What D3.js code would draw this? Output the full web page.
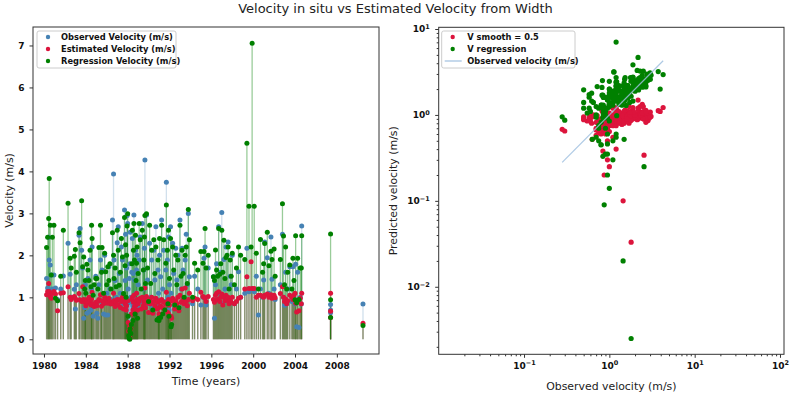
<!DOCTYPE html>
<html>
<head>
<meta charset="utf-8">
<script src="https://cdn.jsdelivr.net/npm/d3@7"></script>
<style>
  body { margin: 0; background: #fff; }
</style>
</head>
<body>
<div id="chart"></div>
<script>
// measurement dates (decimal years)
const dates = [
  1980.25, 1980.35, 1980.45, 1980.5, 1980.6, 1980.7, 1980.8, 1980.95, 1981.1, 1981.3,
  1981.6, 1981.85, 1982.3, 1982.5, 1982.6, 1982.9, 1983.0, 1983.1,
  1983.35, 1983.45, 1983.6, 1983.7, 1983.8, 1983.9, 1983.95, 1984.0,
  1984.1, 1984.2, 1984.3, 1984.4, 1984.5, 1984.55, 1984.6, 1984.7, 1984.8, 1984.95,
  1985.05, 1985.15, 1985.25, 1985.4, 1985.5, 1985.55, 1985.7, 1985.8, 1985.9, 1986.0,
  1986.1, 1986.2, 1986.3, 1986.4, 1986.55, 1986.65, 1986.7, 1986.8, 1986.9, 1987.0,
  1987.1, 1987.2, 1987.3, 1987.4, 1987.5, 1987.6, 1987.7, 1987.75, 1987.8, 1987.85, 1987.9, 1987.95,
  1988.0, 1988.05, 1988.1, 1988.15, 1988.2, 1988.2, 1988.25, 1988.3, 1988.35, 1988.4, 1988.45, 1988.5,
  1988.55, 1988.6, 1988.65, 1988.7, 1988.75, 1988.8, 1988.85, 1988.9, 1988.95, 1989.0,
  1989.1, 1989.2, 1989.3, 1989.4, 1989.5, 1989.55, 1989.6, 1989.65, 1989.7, 1989.8, 1989.9, 1990.0,
  1990.1, 1990.2, 1990.3, 1990.4, 1990.5, 1990.6, 1990.7, 1990.8, 1990.9, 1990.95, 1991.0, 1991.05,
  1991.15, 1991.25, 1991.35, 1991.45, 1991.55, 1991.65, 1991.7, 1991.8, 1991.85, 1991.9, 1991.95, 1992.0,
  1992.1, 1992.15, 1992.2, 1992.3, 1992.4, 1992.5, 1992.6, 1992.7, 1992.8, 1992.9,
  1993.0, 1993.1, 1993.2, 1993.3, 1993.4, 1993.5, 1993.6, 1993.7, 1993.8, 1993.9,
  1994.2, 1994.4, 1994.7, 1995.0, 1995.2, 1995.3, 1995.4, 1995.5, 1995.7, 1996.2,
  1996.3, 1996.4, 1996.5, 1996.6, 1996.7, 1996.8, 1996.9, 1997.0, 1997.1, 1997.2, 1997.3, 1997.4,
  1997.5, 1997.6, 1997.7, 1997.8, 1997.9, 1998.0, 1998.2, 1998.4, 1998.6, 1998.8,
  1999.2, 1999.4, 1999.6, 1999.8, 1999.9, 2000.1, 2000.3, 2000.5,
  2000.7, 2000.9, 2001.0, 2001.1, 2001.35, 2001.5, 2001.7, 2001.8, 2002.0, 2002.1,
  2002.6, 2002.8, 2002.9, 2003.0, 2003.1, 2003.2, 2003.3, 2003.5,
  2003.7, 2003.8, 2003.9, 2004.0, 2004.06, 2004.16, 2004.25, 2004.38, 2004.5, 2004.6, 2004.64,
  2007.4, 2007.4, 2007.4, 2010.5
]

// observed velocity in situ (m/s)
const observed = [
  1.45, 1.22, 2.43, 1.89, 1.77, 1.53, 1.20, 1.53, 1.22, 0.95,
  1.20, 1.51, 2.29, 1.55, 1.00, 1.19, 0.72, 1.30,
  2.48, 2.64, 2.12, 1.70, 0.50, 0.75, 1.30, 0.90,
  0.62, 1.45, 0.65, 1.89, 0.70, 1.20, 2.20, 0.55, 0.80, 1.50,
  0.62, 0.50, 1.30, 1.89, 0.90, 1.65, 0.60, 2.00, 0.58, 1.10,
  0.58, 1.73, 1.20, 0.95, 2.84, 3.94, 1.89, 1.40, 1.00, 2.30,
  2.68, 1.57, 1.10, 2.20, 1.89, 0.85, 3.08, 1.40, 2.50, 0.70, 1.70, 2.95,
  2.76, 1.20, 0.87, 1.45, 1.80, 0.95, 2.55, 1.00, 0.90, 1.60, 2.40, 0.80,
  1.57, 2.96, 1.41, 0.95, 2.12, 1.10, 1.65, 2.00, 0.75, 1.30,
  1.89, 2.44, 0.90, 2.76, 1.20, 1.65, 2.17, 4.27, 1.00, 2.96, 1.41, 0.85,
  2.29, 1.00, 1.89, 0.75, 2.12, 1.41, 2.68, 0.95, 1.65, 1.10, 0.80, 2.00,
  1.49, 2.84, 1.20, 2.12, 0.90, 1.65, 3.74, 1.89, 1.00, 2.44, 0.70, 1.30,
  2.68, 1.10, 0.95, 2.29, 1.57, 0.80, 2.17, 1.41, 2.00, 0.75,
  2.84, 1.20, 2.17, 1.65, 0.90, 1.89, 2.50, 1.30, 3.00, 1.49,
  0.85, 1.50, 1.20, 0.82, 1.00, 1.93, 2.20, 0.82, 1.70, 1.49,
  0.50, 1.30, 1.80, 0.95, 2.68, 1.10, 1.60, 3.02, 0.85, 1.90, 1.20, 2.20,
  1.00, 2.32, 0.90, 1.50, 1.30, 2.00, 0.85, 1.20, 1.61, 1.00,
  1.10, 2.17, 1.13, 1.20, 1.20, 1.13, 1.50, 0.58,
  1.20, 1.00, 1.41, 2.32, 1.94, 1.10, 2.44, 1.43, 1.20, 0.95,
  1.30, 2.50, 1.00, 0.81, 1.60, 0.85, 1.20, 1.73,
  0.90, 1.73, 1.00, 0.84, 1.79, 0.30, 1.60, 0.28, 1.00, 0.84, 2.70,
  0.83, 0.70, 0.63, 0.84
]

// estimated velocity from width, smooth = 0.5 (m/s)
const estimated = [
  1.06, 1.14, 1.33, 1.14, 1.02, 0.98, 1.10, 1.14, 1.08, 0.68,
  1.10, 1.11, 1.25, 1.00, 0.95, 1.02, 0.98, 0.93,
  1.09, 0.94, 0.90, 1.25, 0.95, 0.88, 0.92, 0.80,
  0.94, 0.86, 1.00, 0.90, 0.82, 0.96, 1.12, 0.85, 0.78, 0.88,
  0.80, 0.90, 0.95, 1.06, 0.79, 0.92, 0.85, 1.00, 0.94, 0.88,
  0.86, 0.98, 0.90, 0.84, 0.86, 1.10, 0.92, 0.78, 0.88, 0.95,
  0.82, 0.94, 0.76, 0.90, 1.00, 0.72, 0.96, 0.85, 0.90, 0.70, 0.80, 0.92,
  0.92, 0.40, 0.20, 0.10, 0.033, 0.30, 0.34, 0.25, 0.60, 0.95, 1.00, 0.70,
  0.88, 1.05, 0.78, 0.66, 0.90, 0.82, 1.10, 0.95, 0.70, 0.85,
  0.92, 0.98, 0.72, 1.00, 0.80, 0.88, 0.94, 1.22, 0.75, 1.02, 0.86, 0.64,
  0.95, 0.85, 1.00, 0.62, 0.90, 0.80, 0.98, 0.72, 0.88, 0.75, 0.60, 0.92,
  0.80, 0.95, 0.75, 0.88, 0.70, 0.84, 1.12, 0.90, 0.64, 0.95, 0.58, 0.82,
  0.92, 0.55, 0.50, 0.98, 0.90, 0.72, 0.92, 0.85, 1.00, 0.68,
  1.05, 0.88, 1.20, 0.95, 0.85, 1.22, 0.90, 0.80, 0.95, 1.10,
  0.92, 0.98, 0.95, 1.12, 1.02, 1.00, 0.98, 0.90, 1.02, 0.95,
  0.88, 1.05, 1.10, 0.95, 1.13, 0.90, 1.00, 1.08, 0.82, 1.00, 0.92, 1.05,
  0.95, 1.00, 0.85, 0.92, 0.88, 1.00, 0.85, 0.90, 0.98, 1.00,
  1.20, 1.49, 1.21, 1.85, 1.21, 1.21, 1.00, 1.05,
  1.05, 1.02, 1.00, 1.05, 1.08, 1.00, 1.06, 0.98, 1.05, 0.99,
  1.09, 1.25, 1.00, 0.90, 0.96, 0.85, 0.92, 1.05,
  1.00, 0.95, 1.05, 1.10, 0.86, 0.65, 0.90, 0.68, 0.98, 0.85, 1.10,
  1.10, 0.67, 0.52, 0.38
]

// regression velocity (m/s)
const regression = [
  2.19, 2.43, 2.88, 3.83, 2.72, 1.53, 2.43, 2.72, 0.98, 0.92,
  1.50, 2.60, 3.24, 1.93, 1.70, 1.98, 2.14, 1.60,
  2.54, 2.30, 3.30, 1.73, 1.96, 1.20, 1.40, 1.10,
  1.79, 1.65, 1.40, 2.12, 1.25, 2.72, 2.40, 1.05, 1.30, 1.45,
  1.45, 1.20, 2.19, 2.72, 1.60, 2.19, 1.10, 2.05, 1.61, 1.30,
  1.73, 1.40, 1.80, 1.20, 2.54, 2.00, 1.45, 1.70, 1.25, 2.60,
  2.12, 1.29, 1.60, 2.40, 1.96, 1.09, 2.90, 1.75, 2.25, 1.00, 2.00, 2.70,
  2.99, 0.55, 0.09, 0.02, 0.0025, 0.20, 0.25, 0.14, 0.35, 1.80, 2.60, 0.45,
  2.12, 2.76, 1.89, 0.60, 2.48, 1.40, 1.81, 2.20, 0.50, 1.57,
  2.76, 2.37, 1.20, 2.60, 1.65, 1.89, 2.44, 2.95, 1.33, 2.99, 1.70, 0.90,
  2.72, 1.33, 2.12, 0.70, 2.37, 1.57, 2.20, 0.46, 1.89, 0.50, 0.45, 2.40,
  0.52, 2.72, 0.60, 2.37, 0.70, 1.81, 3.20, 2.12, 0.85, 2.60, 0.55, 1.45,
  2.40, 0.30, 0.35, 2.20, 1.65, 0.82, 2.00, 1.30, 1.89, 0.75,
  2.72, 1.50, 2.12, 1.57, 1.00, 2.00, 2.20, 1.33, 3.09, 2.37,
  1.00, 1.81, 1.65, 2.09, 1.81, 2.09, 2.64, 1.70, 2.00, 1.49,
  1.40, 2.13, 1.65, 1.50, 2.64, 1.55, 1.80, 2.60, 1.60, 2.36, 1.45, 1.95,
  2.00, 2.20, 1.20, 1.89, 1.50, 2.05, 1.30, 1.70, 2.20, 2.00,
  1.90, 4.67, 3.17, 2.20, 7.05, 3.17, 2.05, 1.20,
  2.38, 1.60, 1.80, 2.28, 2.55, 1.75, 2.10, 1.90, 2.15, 1.50,
  1.90, 3.23, 2.46, 1.30, 2.20, 1.20, 1.60, 1.77,
  1.20, 1.93, 1.40, 0.94, 2.47, 0.87, 1.93, 0.95, 1.70, 1.70, 2.47,
  2.51, 0.94, 0.52, 0.33
]

const yearTicks = [1980, 1984, 1988, 1992, 1996, 2000, 2004, 2008]
const velocityTicks = [0, 1, 2, 3, 4, 5, 6, 7]
const logTicksX = [0.1, 1, 10, 100]
const logTicksY = [0.01, 0.1, 1, 10]

const leftLegend = ['Observed Velocity (m/s)', 'Estimated Velocity (m/s)', 'Regression Velocity (m/s)']
const rightLegend = ['V smooth = 0.5', 'V regression', 'Observed velocity (m/s)']

const colors = { observed: '#4682b4', estimated: '#dc143c', regression: '#008000', line: '#9fbfdf' }
const font = '"DejaVu Sans", sans-serif'
const tickSize = 9

const width = 791, height = 394

const svg = d3.select('#chart')
  .append('svg')
  .attr('width', width)
  .attr('height', height)
  .attr('font-family', font)

svg.append('text')
  .attr('x', 395.5).attr('y', 13)
  .attr('text-anchor', 'middle')
  .attr('font-size', 13)
  .attr('fill', '#222')
  .text('Velocity in situ vs Estimated Velocity from Width')

function styleAxis(g) {
  g.attr('font-family', font).attr('font-size', tickSize)
  g.select('.domain').remove()
  g.selectAll('.tick line').attr('stroke', '#333')
  g.selectAll('.tick text').attr('font-weight', 'bold').attr('fill', '#111')
}

function powerLabels(g) {
  g.selectAll('.tick text').each(function(d) {
    const e = Math.round(Math.log10(d))
    const t = d3.select(this).text('')
    t.append('tspan').text('10')
    t.append('tspan').attr('dy', '-0.5em').attr('font-size', '0.72em')
      .text(e < 0 ? '\u2212' + (-e) : String(e))
  })
}

function minorTicks(lo, hi) {
  const out = []
  for (let e = Math.floor(Math.log10(lo)); e <= Math.ceil(Math.log10(hi)); e++) {
    for (let m = 2; m <= 9; m++) {
      const v = m * Math.pow(10, e)
      if (v >= lo && v <= hi) out.push(v)
    }
  }
  return out
}

// ---------- left: stem plot over time ----------
const L = { x0: 33, x1: 379, y0: 27, y1: 354 }
const x = d3.scaleLinear().domain([1978.95, 2012.03]).range([L.x0, L.x1])
const y = d3.scaleLinear().domain([-0.35, 7.44]).range([L.y1, L.y0])

const series = [
  { values: observed, color: colors.observed, stemOpacity: 0.25 },
  { values: estimated, color: colors.estimated, stemOpacity: 0.35 },
  { values: regression, color: colors.regression, stemOpacity: 0.4 }
]

// all stems go underneath, markers on top
const stems = svg.append('g')
const markers = svg.append('g')
series.forEach(s => {
  stems.append('g').selectAll('line')
    .data(s.values)
    .join('line')
    .attr('x1', (d, i) => x(dates[i]))
    .attr('x2', (d, i) => x(dates[i]))
    .attr('y1', y(0))
    .attr('y2', d => y(d))
    .attr('stroke', s.color)
    .attr('stroke-opacity', s.stemOpacity)
    .attr('stroke-width', 1.3)
  markers.append('g').selectAll('circle')
    .data(s.values)
    .join('circle')
    .attr('cx', (d, i) => x(dates[i]))
    .attr('cy', d => y(d))
    .attr('r', 2.5)
    .attr('fill', s.color)
})

svg.append('g')
  .attr('transform', `translate(0,${L.y1})`)
  .call(d3.axisBottom(x).tickValues(yearTicks).tickFormat(d3.format('d')).tickSize(3.5).tickPadding(5))
  .call(styleAxis)

svg.append('g')
  .attr('transform', `translate(${L.x0},0)`)
  .call(d3.axisLeft(y).tickValues(velocityTicks).tickSize(3.5).tickPadding(5))
  .call(styleAxis)

svg.append('rect')
  .attr('x', L.x0).attr('y', L.y0)
  .attr('width', L.x1 - L.x0).attr('height', L.y1 - L.y0)
  .attr('fill', 'none').attr('stroke', '#333').attr('stroke-width', 1)

svg.append('text')
  .attr('x', (L.x0 + L.x1) / 2).attr('y', 384.5)
  .attr('text-anchor', 'middle').attr('font-size', 10.9).attr('fill', '#222')
  .text('Time (years)')

svg.append('text')
  .attr('transform', `translate(13,${(L.y0 + L.y1) / 2}) rotate(-90)`)
  .attr('text-anchor', 'middle').attr('font-size', 10.9).attr('fill', '#222')
  .text('Velocity (m/s)')

const legL = svg.append('g').attr('transform', 'translate(37,31)')
legL.append('rect')
  .attr('width', 139).attr('height', 37).attr('rx', 2)
  .attr('fill', '#fff').attr('fill-opacity', 0.8).attr('stroke', '#ccc')
leftLegend.forEach((name, i) => {
  legL.append('circle').attr('cx', 11).attr('cy', 6 + i * 12).attr('r', 2.2).attr('fill', series[i].color)
  legL.append('text').attr('x', 24).attr('y', 6 + i * 12).attr('dy', '0.35em')
    .attr('font-size', 8.3).attr('font-weight', 'bold').attr('fill', '#111').text(name)
})

// ---------- right: log-log scatter ----------
const R = { x0: 438.7, x1: 784, y0: 27.3, y1: 354.3 }
const xl = d3.scaleLog().domain([0.01, 111.4]).range([R.x0, R.x1])
const yl = d3.scaleLog().domain([0.001637, 10.47]).range([R.y1, R.y0])

const right = svg.append('g')
right.append('g').selectAll('circle')
  .data(estimated)
  .join('circle')
  .attr('cx', (d, i) => xl(observed[i]))
  .attr('cy', d => yl(d))
  .attr('r', 2.6)
  .attr('fill', colors.estimated)

right.append('g').selectAll('circle')
  .data(regression)
  .join('circle')
  .attr('cx', (d, i) => xl(observed[i]))
  .attr('cy', d => yl(d))
  .attr('r', 2.6)
  .attr('fill', colors.regression)

const obsExtent = d3.extent(observed)
right.append('line')
  .attr('x1', xl(obsExtent[0])).attr('y1', yl(obsExtent[0]))
  .attr('x2', xl(obsExtent[1])).attr('y2', yl(obsExtent[1]))
  .attr('stroke', colors.line).attr('stroke-width', 1.2).attr('stroke-opacity', 0.85)

svg.append('g')
  .attr('transform', `translate(0,${R.y1})`)
  .call(d3.axisBottom(xl).tickValues(minorTicks(0.01, 111.4)).tickSize(2).tickFormat(''))
  .call(styleAxis)

svg.append('g')
  .attr('transform', `translate(0,${R.y1})`)
  .call(d3.axisBottom(xl).tickValues(logTicksX).tickSize(3.5).tickPadding(4.5))
  .call(styleAxis)
  .call(powerLabels)

svg.append('g')
  .attr('transform', `translate(${R.x0},0)`)
  .call(d3.axisLeft(yl).tickValues(minorTicks(0.001637, 10.47)).tickSize(2).tickFormat(''))
  .call(styleAxis)

svg.append('g')
  .attr('transform', `translate(${R.x0},0)`)
  .call(d3.axisLeft(yl).tickValues(logTicksY).tickSize(3.5).tickPadding(5.5))
  .call(styleAxis)
  .call(powerLabels)

svg.append('rect')
  .attr('x', R.x0).attr('y', R.y0)
  .attr('width', R.x1 - R.x0).attr('height', R.y1 - R.y0)
  .attr('fill', 'none').attr('stroke', '#333').attr('stroke-width', 1)

svg.append('text')
  .attr('x', (R.x0 + R.x1) / 2).attr('y', 390)
  .attr('text-anchor', 'middle').attr('font-size', 10.9).attr('fill', '#222')
  .text('Observed velocity (m/s)')

svg.append('text')
  .attr('transform', `translate(397,${(R.y0 + R.y1) / 2}) rotate(-90)`)
  .attr('text-anchor', 'middle').attr('font-size', 10.9).attr('fill', '#222')
  .text('Predicted velocity (m/s)')

const legR = svg.append('g').attr('transform', 'translate(441.7,31)')
legR.append('rect')
  .attr('width', 133.3).attr('height', 37).attr('rx', 2)
  .attr('fill', '#fff').attr('fill-opacity', 0.8).attr('stroke', '#ccc')
legR.append('circle').attr('cx', 11).attr('cy', 6).attr('r', 2.2).attr('fill', colors.estimated)
legR.append('circle').attr('cx', 11).attr('cy', 18).attr('r', 2.2).attr('fill', colors.regression)
legR.append('line').attr('x1', 3).attr('x2', 20).attr('y1', 30).attr('y2', 30)
  .attr('stroke', colors.line).attr('stroke-width', 1.2)
rightLegend.forEach((name, i) => {
  legR.append('text').attr('x', 25.6).attr('y', 6 + i * 12).attr('dy', '0.35em')
    .attr('font-size', 8.3).attr('font-weight', 'bold').attr('fill', '#111').text(name)
})
</script>
</body>
</html>
